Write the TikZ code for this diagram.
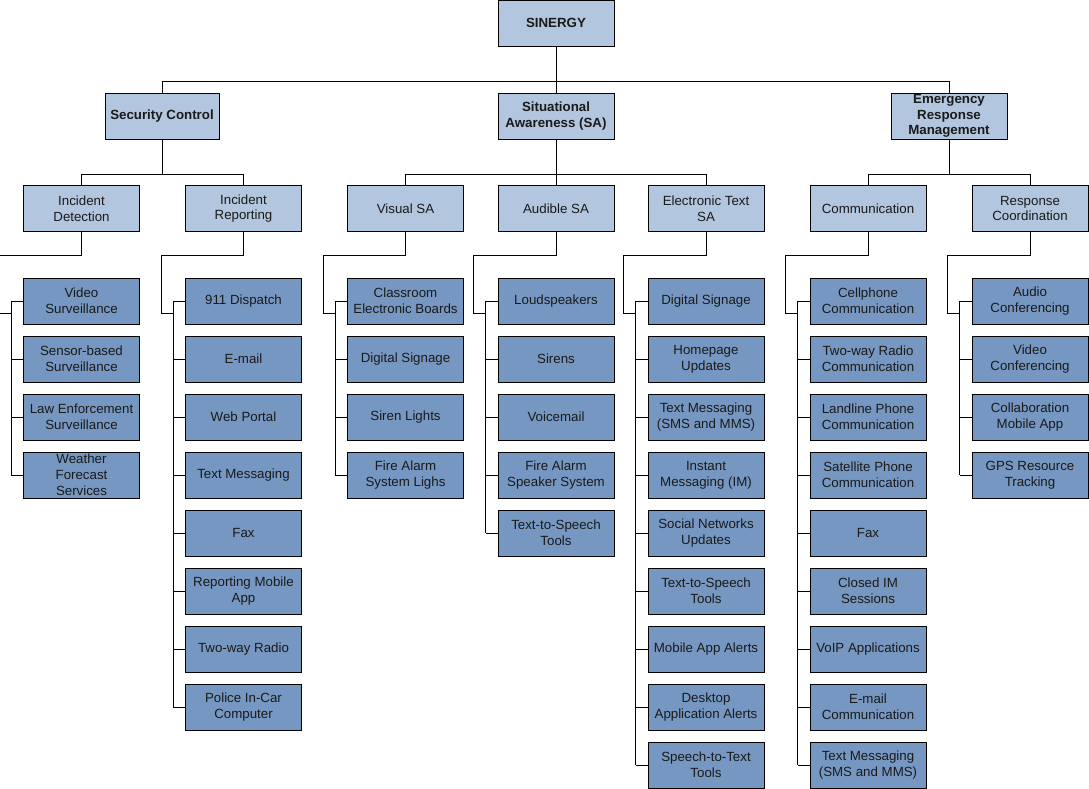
\documentclass[tikz,border=0pt]{standalone}
\usepackage{fontspec}
\setmainfont{Liberation Sans}
\definecolor{lightbox}{HTML}{B3C6DF}
\definecolor{darkbox}{HTML}{7597C1}
\definecolor{txt}{HTML}{1A1A1A}
\begin{document}
\begin{tikzpicture}[x=1pt,y=-1pt,
  base/.style={draw=black,line width=1pt,minimum width=116pt,minimum height=46pt,inner sep=0pt,align=center,text=txt,font=\fontsize{13.3}{15.8}\selectfont},
  topbox/.style={base,fill=lightbox,font=\fontsize{13.3}{15.3}\selectfont\bfseries},
  midbox/.style={base,fill=lightbox},
  leaf/.style={base,fill=darkbox},
  conn/.style={line width=1pt,black}]
\useasboundingbox (0,0) rectangle (1089,788);
% level 0 and 1
\node[topbox] (s) at (556,23) {SINERGY};
\node[topbox,minimum width=114pt] (sc) at (162,116) {Security Control};
\node[topbox] (sa) at (556,116) {Situational\\Awareness (SA)};
\node[topbox] (erm) at (949,116) {Emergency\\Response\\Management};
% level 2
\node[midbox] (id) at (81.5,208.5) {Incident\\Detection};
\node[midbox] (ir) at (243.5,208.5) {Incident\\Reporting};
\node[midbox] (vsa) at (405.5,208.5) {Visual SA};
\node[midbox] (asa) at (556,208.5) {Audible SA};
\node[midbox] (etsa) at (706,208.5) {Electronic Text\\SA};
\node[midbox] (com) at (868,208.5) {Communication};
\node[midbox] (rc) at (1030,208.5) {Response\\Coordination};
% level 3
\foreach \t [count=\i] in {{Video\\Surveillance},{Sensor-based\\Surveillance},{Law Enforcement\\Surveillance},{Weather\\Forecast\\Services}}
  \node[leaf] (id\i) at (81.5,{301+58*(\i-1)}) {\t};
\foreach \t [count=\i] in {{911 Dispatch},{E-mail},{Web Portal},{Text Messaging},{Fax},{Reporting Mobile\\App},{Two-way Radio},{Police In-Car\\Computer}}
  \node[leaf] (ir\i) at (243.5,{301+58*(\i-1)}) {\t};
\foreach \t [count=\i] in {{Classroom\\Electronic Boards},{Digital Signage},{Siren Lights},{Fire Alarm\\System Lighs}}
  \node[leaf] (vsa\i) at (405.5,{301+58*(\i-1)}) {\t};
\foreach \t [count=\i] in {{Loudspeakers},{Sirens},{Voicemail},{Fire Alarm\\Speaker System},{Text-to-Speech\\Tools}}
  \node[leaf] (asa\i) at (556,{301+58*(\i-1)}) {\t};
\foreach \t [count=\i] in {{Digital Signage},{Homepage\\Updates},{Text Messaging\\(SMS and MMS)},{Instant\\Messaging (IM)},{Social Networks\\Updates},{Text-to-Speech\\Tools},{Mobile App Alerts},{Desktop\\Application Alerts},{Speech-to-Text\\Tools}}
  \node[leaf] (etsa\i) at (706,{301+58*(\i-1)}) {\t};
\foreach \t [count=\i] in {{Cellphone\\Communication},{Two-way Radio\\Communication},{Landline Phone\\Communication},{Satellite Phone\\Communication},{Fax},{Closed IM\\Sessions},{VoIP Applications},{E-mail\\Communication},{Text Messaging\\(SMS and MMS)}}
  \node[leaf] (com\i) at (868,{301+58*(\i-1)}) {\t};
\foreach \t [count=\i] in {{Audio\\Conferencing},{Video\\Conferencing},{Collaboration\\Mobile App},{GPS Resource\\Tracking}}
  \node[leaf] (rc\i) at (1030,{301+58*(\i-1)}) {\t};
% connectors level 0 -> 1
\draw[conn] (s.south) -- ++(0,35) -| (sc.north);
\draw[conn] (s.south) ++(0,35) -| (erm.north);
\draw[conn] (s.south) -- (sa.north);
% level 1 -> 2
\draw[conn] (sc.south) -- ++(0,35) -| (id.north);
\draw[conn] (sc.south) ++(0,35) -| (ir.north);
\draw[conn] (sa.south) -- ++(0,35) -| (vsa.north);
\draw[conn] (sa.south) ++(0,35) -| (etsa.north);
\draw[conn] (sa.south) -- (asa.north);
\draw[conn] (erm.south) -- ++(0,35) -| (com.north);
\draw[conn] (erm.south) ++(0,35) -| (rc.north);
% level 2 -> 3
\foreach \p/\n in {id/4,ir/8,vsa/4,asa/5,etsa/9,com/9,rc/4}{
  \draw[conn] (\p.south) -- ++(0,23) -| ([xshift=-24pt,yshift=-12pt]\p1.west) -- ([xshift=-12pt,yshift=-12pt]\p1.west);
  \draw[conn] ([xshift=-12pt]\p1.west) -- ([xshift=-12pt]\p\n.west);
  \foreach \i in {1,...,\n}
    \draw[conn] (\p\i.west) -- ++(-12,0);
}
\end{tikzpicture}
\end{document}
